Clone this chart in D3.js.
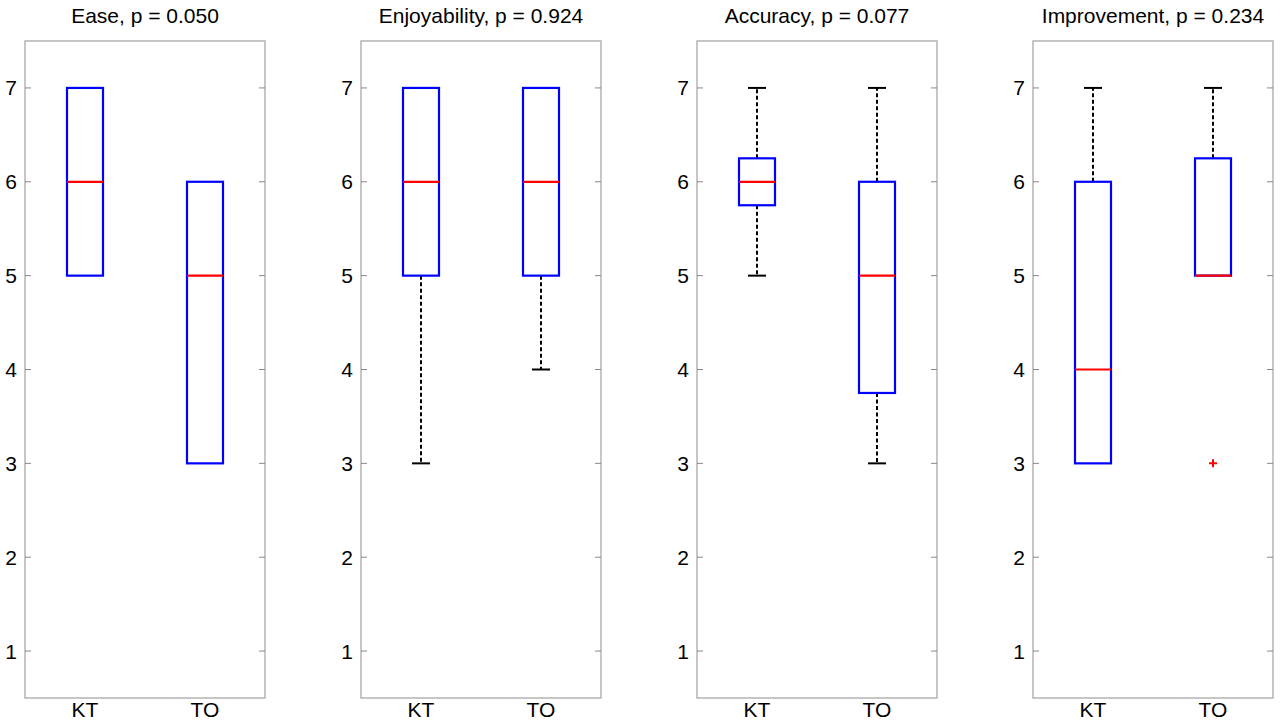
<!DOCTYPE html>
<html>
<head>
<meta charset="utf-8">
<script src="https://cdn.jsdelivr.net/npm/d3@7"></script>
<style>
    body { margin: 0; background: #fff; }
    svg { display: block; font-family: "Liberation Sans", Arial, sans-serif; }
</style>
</head>
<body>
<div id="chart"></div>
<script>
// Data
const groups = ["KT", "TO"];
const panelNames = ["Ease", "Enjoyability", "Accuracy", "Improvement"];
const pValues = ["0.050", "0.924", "0.077", "0.234"];
const medians = [[6, 5], [6, 6], [6, 5], [4, 5]];
const q1 = [[5, 3], [5, 5], [5.75, 3.75], [3, 5]];
const q3 = [[7, 6], [7, 7], [6.25, 6], [6, 6.25]];
const whiskerLow = [[5, 3], [3, 4], [5, 3], [3, 5]];
const whiskerHigh = [[7, 6], [7, 7], [7, 7], [7, 7]];
const outliers = [[[], []], [[], []], [[], []], [[], [3]]];
const yTicks = [1, 2, 3, 4, 5, 6, 7];

const width = 1280, height = 723;
const panelW = 240, panelStep = 336, firstLeft = 25;
const plotTop = 41, plotBottom = 698;

const svg = d3.select("#chart").append("svg")
    .attr("width", width)
    .attr("height", height);

const y = d3.scaleLinear().domain([0.5, 7.5]).range([plotBottom, plotTop]);

panelNames.forEach((name, i) => {
    const left = firstLeft + i * panelStep;
    const x = d3.scaleLinear().domain([0.5, 2.5]).range([left, left + panelW]);
    const g = svg.append("g");

    // Frame
    g.append("rect")
        .attr("x", left).attr("y", plotTop)
        .attr("width", panelW).attr("height", plotBottom - plotTop)
        .attr("fill", "none")
        .attr("stroke", "#a8a8a8")
        .attr("stroke-width", 1.3);

    // Inward ticks on both sides
    const ticks = g.append("g");
    ticks.selectAll("line.l").data(yTicks).enter().append("line")
        .attr("class", "l")
        .attr("x1", left).attr("x2", left + 6)
        .attr("y1", d => y(d)).attr("y2", d => y(d))
        .attr("stroke", "#888").attr("stroke-width", 1);
    ticks.selectAll("line.r").data(yTicks).enter().append("line")
        .attr("class", "r")
        .attr("x1", left + panelW - 6).attr("x2", left + panelW)
        .attr("y1", d => y(d)).attr("y2", d => y(d))
        .attr("stroke", "#888").attr("stroke-width", 1);
    ticks.selectAll("text").data(yTicks).enter().append("text")
        .attr("x", left - 8)
        .attr("y", d => y(d))
        .attr("dy", "0.36em")
        .attr("text-anchor", "end")
        .style("font-size", "21px")
        .text(d => d);

    // Title
    g.append("text")
        .attr("x", left + panelW / 2)
        .attr("y", 23)
        .attr("text-anchor", "middle")
        .style("font-size", "21px")
        .text(`${name}, p = ${pValues[i]}`);

    // Group labels
    g.selectAll("text.grp").data(groups).enter().append("text")
        .attr("class", "grp")
        .attr("x", (d, j) => x(j + 1))
        .attr("y", 717)
        .attr("text-anchor", "middle")
        .style("font-size", "21px")
        .text(d => d);

    groups.forEach((grp, j) => {
        const cx = x(j + 1);
        const boxHalf = (x(1.15) - x(1));
        const capHalf = (x(1.075) - x(1));

        // Whiskers (dashed) with caps, only where they extend past the box
        [[q3[i][j], whiskerHigh[i][j]], [q1[i][j], whiskerLow[i][j]]].forEach(([a, b]) => {
            if (a === b) return;
            g.append("line")
                .attr("x1", cx).attr("x2", cx)
                .attr("y1", y(a)).attr("y2", y(b))
                .attr("stroke", "#000")
                .attr("stroke-width", 2)
                .attr("stroke-dasharray", "4,2.5");
            g.append("line")
                .attr("x1", cx - capHalf).attr("x2", cx + capHalf)
                .attr("y1", y(b)).attr("y2", y(b))
                .attr("stroke", "#000")
                .attr("stroke-width", 2);
        });

        // Box
        g.append("rect")
            .attr("x", cx - boxHalf)
            .attr("y", y(q3[i][j]))
            .attr("width", boxHalf * 2)
            .attr("height", y(q1[i][j]) - y(q3[i][j]))
            .attr("fill", "none")
            .attr("stroke", "#0000ff")
            .attr("stroke-width", 2.2);

        // Median
        g.append("line")
            .attr("x1", cx - boxHalf).attr("x2", cx + boxHalf)
            .attr("y1", y(medians[i][j])).attr("y2", y(medians[i][j]))
            .attr("stroke", "#ff0000")
            .attr("stroke-width", 2.2);

        // Outliers
        outliers[i][j].forEach(v => {
            g.append("path")
                .attr("d", `M${cx - 4},${y(v)}H${cx + 4}M${cx},${y(v) - 4}V${y(v) + 4}`)
                .attr("stroke", "#ff0000")
                .attr("stroke-width", 2);
        });
    });
});
</script>
</body>
</html>
